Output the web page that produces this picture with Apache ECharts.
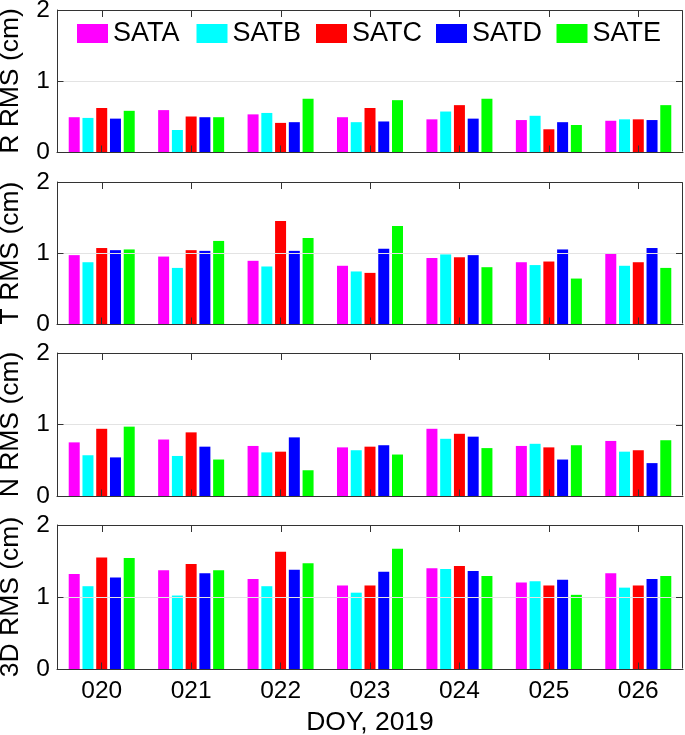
<!DOCTYPE html>
<html><head><meta charset="utf-8">
<script src="https://cdn.jsdelivr.net/npm/echarts@6/dist/echarts.min.js"></script>
<style>html,body{margin:0;padding:0;background:#fff}#c{width:685px;height:735px}</style>
</head><body><div id="c"></div><script>
// ---- data ----
const days = ['020', '021', '022', '023', '024', '025', '026'];
const satNames = ['SATA', 'SATB', 'SATC', 'SATD', 'SATE'];
const yTickMin = 0, yTickMax = 2, yTickStep = 1;
const yTickValues = [0, 1, 2];
const panelNames = ['R RMS (cm)', 'T RMS (cm)', 'N RMS (cm)', '3D RMS (cm)'];
const xAxisTitle = 'DOY, 2019';

// R RMS
const rSATA = [0.49, 0.59, 0.53, 0.49, 0.46, 0.45, 0.44];
const rSATB = [0.48, 0.31, 0.55, 0.42, 0.57, 0.51, 0.46];
const rSATC = [0.62, 0.50, 0.41, 0.62, 0.66, 0.32, 0.46];
const rSATD = [0.47, 0.49, 0.42, 0.43, 0.47, 0.42, 0.45];
const rSATE = [0.58, 0.49, 0.75, 0.73, 0.75, 0.38, 0.66];
// T RMS
const tSATA = [0.97, 0.95, 0.89, 0.82, 0.93, 0.87, 0.99];
const tSATB = [0.87, 0.79, 0.81, 0.74, 0.98, 0.83, 0.82];
const tSATC = [1.07, 1.04, 1.45, 0.72, 0.94, 0.88, 0.87];
const tSATD = [1.04, 1.03, 1.03, 1.06, 0.97, 1.05, 1.07];
const tSATE = [1.05, 1.17, 1.21, 1.38, 0.80, 0.64, 0.79];
// N RMS
const nSATA = [0.75, 0.79, 0.70, 0.68, 0.94, 0.70, 0.77];
const nSATB = [0.57, 0.56, 0.61, 0.64, 0.80, 0.73, 0.62];
const nSATC = [0.94, 0.89, 0.62, 0.69, 0.87, 0.68, 0.64];
const nSATD = [0.54, 0.69, 0.82, 0.71, 0.83, 0.51, 0.46];
const nSATE = [0.97, 0.51, 0.36, 0.58, 0.67, 0.71, 0.78];
// 3D RMS
const dSATA = [1.32, 1.37, 1.25, 1.16, 1.40, 1.20, 1.33];
const dSATB = [1.15, 1.02, 1.15, 1.06, 1.39, 1.22, 1.13];
const dSATC = [1.55, 1.46, 1.63, 1.16, 1.43, 1.16, 1.16];
const dSATD = [1.27, 1.33, 1.38, 1.35, 1.36, 1.24, 1.25];
const dSATE = [1.54, 1.37, 1.47, 1.67, 1.29, 1.03, 1.29];

const panelData = [
  [rSATA, rSATB, rSATC, rSATD, rSATE],
  [tSATA, tSATB, tSATC, tSATD, tSATE],
  [nSATA, nSATB, nSATC, nSATD, nSATE],
  [dSATA, dSATB, dSATC, dSATD, dSATE]
];

// ---- styles ----
const colors = ['#FF00FF', '#00FFFF', '#FF0000', '#0000FF', '#00FF00'];
const FONT = '"Liberation Sans", Arial, Helvetica, sans-serif';
const axisColor = '#333333';
const gridTops = [10, 182, 353, 525];
const gridHeights = [142, 142, 143, 144];
const legendLefts = [77, 196.5, 316, 436, 556.5];
const TICK = 6.5;

const grids = [], xAxes = [], yAxes = [], series = [];
for (let i = 0; i < 4; i++) {
  grids.push({
    left: 57, width: 626, top: gridTops[i], height: gridHeights[i],
    containLabel: false, outerBoundsMode: 'none'
  });
  const last = i === 3;
  const x = {
    type: 'category', data: days, gridIndex: i, position: 'bottom', z: 5,
    axisLine: { show: true, onZero: false, lineStyle: { color: axisColor, width: 1 } },
    axisTick: { show: true, inside: true, length: TICK, alignWithLabel: true, interval: 0, lineStyle: { color: axisColor, width: 1 } },
    splitLine: { show: false },
    axisLabel: { show: last, interval: 0, fontSize: 24.5, fontFamily: FONT, margin: 10, color: '#000' }
  };
  if (last) {
    x.name = xAxisTitle; x.nameLocation = 'middle'; x.nameGap = 40;
    x.nameTextStyle = { fontSize: 26.5, color: '#000', fontFamily: FONT };
  }
  xAxes.push(x);
  yAxes.push({
    type: 'value', gridIndex: i, min: yTickMin, max: yTickMax, interval: yTickStep, position: 'left', z: 5,
    axisLine: { show: true, onZero: false, lineStyle: { color: axisColor, width: 1 } },
    axisTick: { show: true, inside: true, length: TICK, lineStyle: { color: axisColor, width: 1 } },
    axisLabel: { show: true, fontSize: 24.5, fontFamily: FONT, margin: 7, color: '#000' },
    splitLine: { show: true, lineStyle: { color: '#e3e3e3', width: 1 } },
    name: panelNames[i], nameLocation: 'middle', nameRotate: 90, nameGap: 33,
    nameTextStyle: { fontSize: 26.5, color: '#000', fontFamily: FONT }
  });
  for (let s = 0; s < 5; s++) {
    series.push({
      type: 'bar', name: satNames[s], xAxisIndex: i, yAxisIndex: i,
      data: panelData[i][s], barWidth: 11, barGap: '25%',
      itemStyle: { color: colors[s], borderWidth: 0 },
      emphasis: { disabled: true }, animation: false
    });
  }
}

const legends = satNames.map((n, k) => ({
  data: [n], left: legendLefts[k], top: 20, padding: 0,
  itemWidth: 31, itemHeight: 19, icon: 'rect',
  textStyle: { fontSize: 27, color: '#000', fontFamily: FONT }
}));

const chart = echarts.init(document.getElementById('c'), null, { renderer: 'canvas' });
chart.setOption({
  animation: false,
  color: colors,
  grid: grids, xAxis: xAxes, yAxis: yAxes, series: series,
  legend: legends
});

// Frame (top/right box edges and their inside ticks), positioned through the library's own layout/scales
try {
  const g = [];
  const lineStyle = { stroke: axisColor, lineWidth: 1 };
  for (let i = 0; i < 4; i++) {
    const rect = chart.getModel().getComponent('grid', i).coordinateSystem.getRect();
    const x0 = Math.round(rect.x) + 0.5, x1 = Math.round(rect.x + rect.width) - 0.5;
    const y0 = Math.round(rect.y) + 0.5, y1 = Math.round(rect.y + rect.height) - 0.5;
    // top edge
    g.push({ type: 'line', silent: true, z: 100, shape: { x1: x0, y1: y0, x2: x1, y2: y0 }, style: lineStyle });
    // right edge
    g.push({ type: 'line', silent: true, z: 100, shape: { x1: x1, y1: y0, x2: x1, y2: y1 }, style: lineStyle });
    // top ticks at category centres
    days.forEach(d => {
      const px = Math.round(chart.convertToPixel({ xAxisIndex: i }, d)) + 0.5;
      g.push({ type: 'line', silent: true, z: 100, shape: { x1: px, y1: y0, x2: px, y2: y0 + TICK }, style: lineStyle });
    });
    // right ticks at y tick values
    yTickValues.forEach(v => {
      const py = Math.round(chart.convertToPixel({ yAxisIndex: i }, v)) + 0.5;
      g.push({ type: 'line', silent: true, z: 100, shape: { x1: x1 - TICK, y1: py, x2: x1, y2: py }, style: lineStyle });
    });
  }
  chart.setOption({ graphic: { elements: g } });
} catch (e) { console.error(e); }
</script></body></html>
